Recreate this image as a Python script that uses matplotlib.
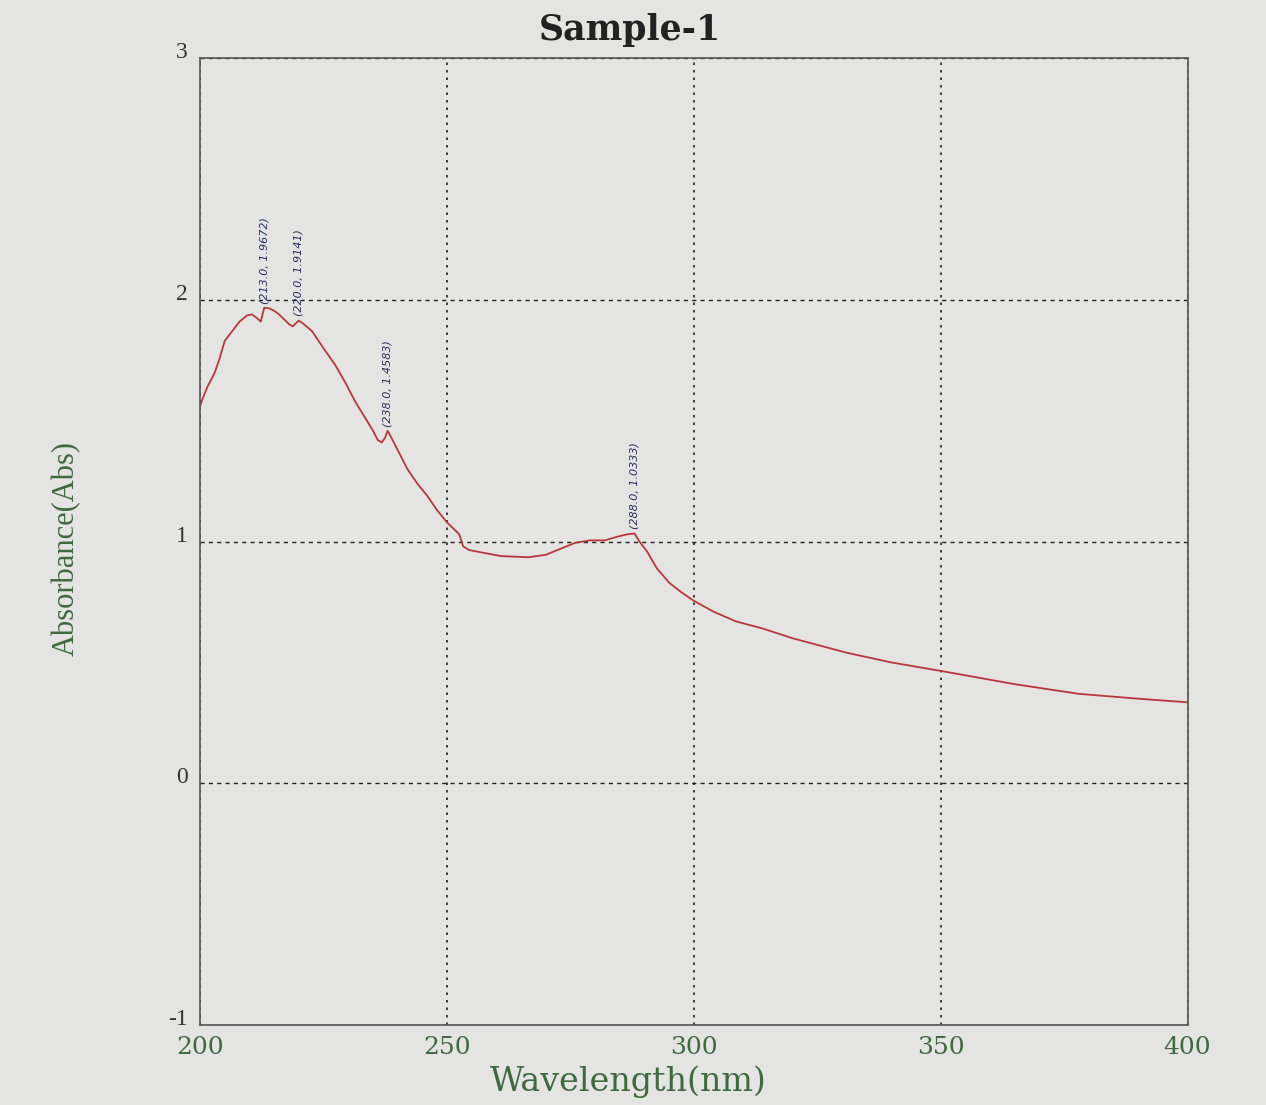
import matplotlib
matplotlib.use("Agg")
import matplotlib.pyplot as plt
import matplotlib.transforms as mtransforms

# Spectrum trace (wavelength nm, absorbance)
wavelength = [200, 200.5, 201.5, 203, 204, 205, 206.5, 208, 209.5, 210.5, 211.5, 212.3, 213,
              214, 215, 216, 217, 218, 218.8, 219.5, 220, 221, 222.7, 225, 227.4, 229.5,
              231.4, 233.5, 235, 236, 236.8, 237.5, 238, 239, 240.5, 242, 244, 246,
              248, 250, 251.5, 252.5, 253.3, 254.5, 257, 261, 266.5, 270, 273,
              276, 279, 282, 284.5, 286.5, 288, 289, 290.5, 292.5, 295, 297.5,
              300, 304, 308.5, 314, 320, 331, 340, 350, 365, 378, 390, 400]
absorbance = [1.56, 1.59, 1.64, 1.70, 1.76, 1.83, 1.87, 1.91, 1.935, 1.94, 1.925, 1.91, 1.9672,
              1.965, 1.955, 1.94, 1.92, 1.90, 1.89, 1.905, 1.9141, 1.90, 1.87, 1.80, 1.73, 1.655,
              1.58, 1.51, 1.46, 1.42, 1.41, 1.43, 1.4583, 1.42, 1.36, 1.30, 1.24, 1.19,
              1.13, 1.08, 1.05, 1.03, 0.98, 0.965, 0.955, 0.94, 0.935, 0.945, 0.97,
              0.995, 1.005, 1.005, 1.02, 1.03, 1.0333, 1.00, 0.96, 0.89, 0.83, 0.79,
              0.755, 0.71, 0.67, 0.64, 0.60, 0.54, 0.50, 0.465, 0.41, 0.37, 0.35, 0.335]

peak_x = [213.0, 220.0, 238.0, 288.0]
peak_y = [1.9672, 1.9141, 1.4583, 1.0333]

x_ticks = [200, 250, 300, 350, 400]
y_ticks = [-1, 0, 1, 2, 3]

bg = "#e4e4e2"
green = "#3f6a3f"
fig = plt.figure(figsize=(12.66, 11.05), dpi=100, facecolor=bg)
ax = fig.add_axes([0.158, 0.0724, 0.78, 0.875])
ax.set_facecolor(bg)

ax.plot(wavelength, absorbance, color="#b8383a", lw=1.3)

for px, py in zip(peak_x, peak_y):
    ax.annotate(f"({px:.1f}, {py:.4f})", xy=(px, py), xytext=(0, 3),
                textcoords="offset points", rotation=90, ha="center", va="bottom",
                fontsize=8, color="#2a2f5a", style="italic")

ax.set_xlim(200, 400)
ax.set_ylim(-1, 3)
ax.set_xticks(x_ticks)
ax.set_yticks(y_ticks)
ax.set_yticklabels([str(v) for v in y_ticks])
ax.tick_params(length=0)
ax.tick_params(axis="x", pad=8)
ax.tick_params(axis="y", pad=9)
for lab in ax.get_xticklabels():
    lab.set_fontfamily("DejaVu Serif")
    lab.set_fontsize(18)
    lab.set_color(green)
up = mtransforms.ScaledTranslation(0, 8 / 100, fig.dpi_scale_trans)
for lab in ax.get_yticklabels():
    lab.set_fontfamily("Liberation Serif")
    lab.set_fontsize(17)
    lab.set_color("#333333")
    lab.set_transform(lab.get_transform() + up)

ax.grid(True, axis="x", color="#222222", linestyle=(0, (1.5, 3)), lw=1.2)
ax.grid(True, axis="y", color="#222222", linestyle=(0, (3, 3)), lw=1.0)
for s in ax.spines.values():
    s.set_color("#555555")
    s.set_linewidth(1.2)

fig.text(630 / 1266, 1 - 30 / 1105, "Sample-1", fontfamily="DejaVu Serif", fontsize=25,
         fontweight="bold", color="#222222", ha="center", va="center")
fig.text(628 / 1266, 1 - 1082 / 1105, "Wavelength(nm)", fontfamily="DejaVu Serif",
         fontsize=24, color=green, ha="center", va="center")
fig.text(66 / 1266, 1 - 548 / 1105, "Absorbance(Abs)", fontfamily="Liberation Serif",
         fontsize=22, color=green, ha="center", va="center", rotation=90)

fig.savefig("out.png", dpi=100, facecolor=bg)
